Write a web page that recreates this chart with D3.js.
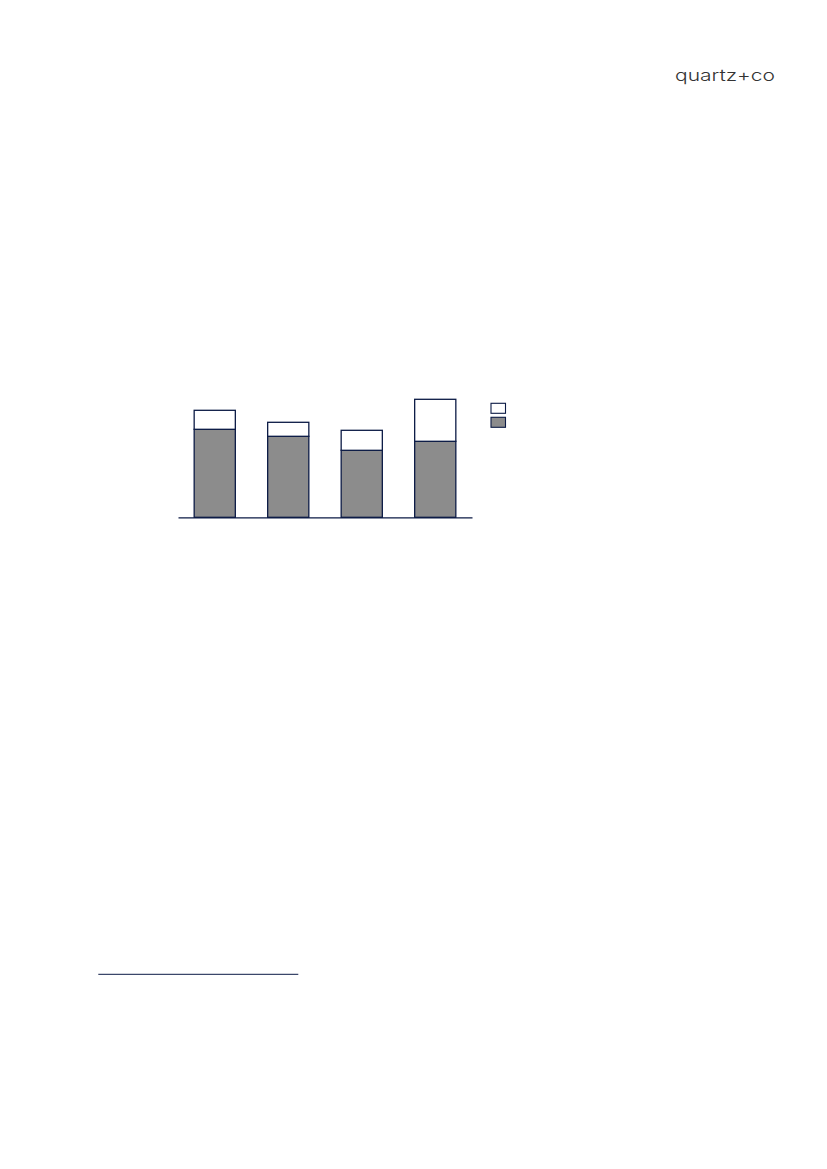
<!DOCTYPE html>
<html>
<head>
<meta charset="utf-8">
<script src="https://cdn.jsdelivr.net/npm/d3@7"></script>
<style>
  html, body { margin: 0; padding: 0; background: #fff; }
  svg { display: block; }
</style>
</head>
<body>
<div class="chart"></div>
<script>
const categories = ['A', 'B', 'C', 'D'];
const baseValues = [88, 81, 67, 76];
const topValues = [19, 14, 20, 42];
const seriesKeys = ['base', 'top'];

const FULL_WIDTH = 827;
const FULL_HEIGHT = 1169;
const NAVY = '#0b1a45';
const GREY = '#8c8c8c';

const data = categories.map((c, i) => ({ name: c, base: baseValues[i], top: topValues[i] }));

const svg = d3.select('.chart')
  .append('svg')
    .attr('width', FULL_WIDTH)
    .attr('height', FULL_HEIGHT);

// logo
svg.append('text')
  .attr('x', 675)
  .attr('y', 80.5)
  .attr('textLength', 100)
  .attr('lengthAdjust', 'spacingAndGlyphs')
  .style('font-family', 'Inter, sans-serif')
  .style('font-weight', 300)
  .style('font-size', '16.5px')
  .style('fill', '#333')
  .text('quartz+co');

const xScale = d3.scaleBand()
  .domain(categories)
  .range([178, 472])
  .paddingInner(0.44)
  .paddingOuter(0.22);

const yScale = d3.scaleLinear()
  .domain([0, 120])
  .range([517.3, 397.3]);

const stacked = d3.stack().keys(seriesKeys)(data);
const fills = { base: GREY, top: '#fff' };

svg.selectAll('g.layer')
  .data(stacked)
  .join('g')
    .attr('class', 'layer')
    .attr('fill', d => fills[d.key])
    .attr('stroke', NAVY)
    .attr('stroke-width', 1.3)
  .selectAll('rect')
  .data(d => d)
  .join('rect')
    .attr('x', d => xScale(d.data.name))
    .attr('width', xScale.bandwidth())
    .attr('y', d => yScale(d[1]))
    .attr('height', d => yScale(d[0]) - yScale(d[1]));

// baseline axis without ticks/labels
svg.append('g')
  .attr('transform', `translate(0, ${yScale(0)})`)
  .call(d3.axisBottom(xScale).tickSize(0).tickFormat(''))
  .call(g => g.select('.domain').attr('stroke', NAVY).attr('stroke-width', 1.3));

// legend swatches
const legend = svg.append('g').attr('transform', 'translate(491, 403.3)');
legend.selectAll('rect')
  .data(['top', 'base'])
  .join('rect')
    .attr('x', 0)
    .attr('y', (d, i) => i * 14)
    .attr('width', 14.5)
    .attr('height', 10)
    .attr('fill', d => fills[d])
    .attr('stroke', NAVY)
    .attr('stroke-width', 1.1);

// footnote rule
svg.append('line')
  .attr('x1', 98.3).attr('x2', 298.3)
  .attr('y1', 974.3).attr('y2', 974.3)
  .attr('stroke', NAVY)
  .attr('stroke-width', 1);
</script>
</body>
</html>
